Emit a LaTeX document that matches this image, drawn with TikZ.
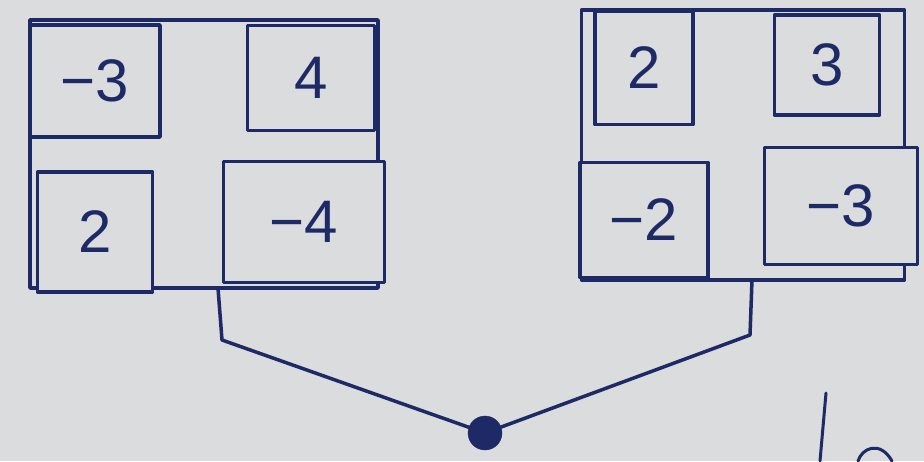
\documentclass[tikz,border=0pt]{standalone}
\usepackage{fontspec}
\setmainfont{Liberation Sans}
\begin{document}
\begin{tikzpicture}[x=1pt,y=-1pt,
  ink/.style={draw=inkc,line width=3.5pt,line join=round,line cap=round},
  cell/.style={ink,rectangle,inner sep=0pt,text=inkc,font=\fontsize{60}{60}\selectfont},
  frame/.style={ink,rectangle,inner sep=0pt}]
\definecolor{inkc}{HTML}{1E2A66}
\definecolor{paper}{HTML}{DADCDD}
\fill[paper] (0,0) rectangle (924,461);
\useasboundingbox (0,0) rectangle (924,461);
% outer frames
\node[frame,minimum width=348pt,minimum height=268pt] (LF) at (204,154) {};
\node[frame,minimum width=323pt,minimum height=270pt] (RF) at (743,145) {};
% left cells
\node[cell,fill=paper,minimum width=130pt,minimum height=112pt] (Lm3) at (95,81) {−3};
\node[cell,fill=paper,minimum width=127pt,minimum height=105pt] (L4) at (311,78) {4};
\node[cell,fill=paper,minimum width=115pt,minimum height=120pt] (L2) at (95,232) {2};
\node[cell,fill=paper,minimum width=161pt,minimum height=121pt] (Lm4) at (304,222) {−4};
% right cells
\node[cell,fill=paper,minimum width=98pt,minimum height=113pt] (R2) at (644,68) {2};
\node[cell,fill=paper,minimum width=105pt,minimum height=100pt] (R3) at (827,65) {3};
\node[cell,fill=paper,minimum width=128pt,minimum height=115pt] (Rm2) at (644,220) {−2};
\node[cell,fill=paper,minimum width=153pt,minimum height=117pt] (Rm3) at (841,206) {−3};
% joining dot
\node[circle,fill=inkc,draw=inkc,minimum size=34pt,inner sep=0pt] (dot) at (485,433) {};
\coordinate (la) at (218,288);
\coordinate (lb) at (222,340);
\coordinate (ra) at (752,280);
\coordinate (rb) at (750,335);
\draw[ink] (la) -- (lb) -- (dot);
\draw[ink] (ra) -- (rb) -- (dot);
% partial strokes at bottom right
\draw[ink,line width=3pt] (826,393) -- (820,461);
\draw[ink,line width=3pt] (858,461) .. controls (862,448) and (880,440) .. (892,461);
\end{tikzpicture}
\end{document}
